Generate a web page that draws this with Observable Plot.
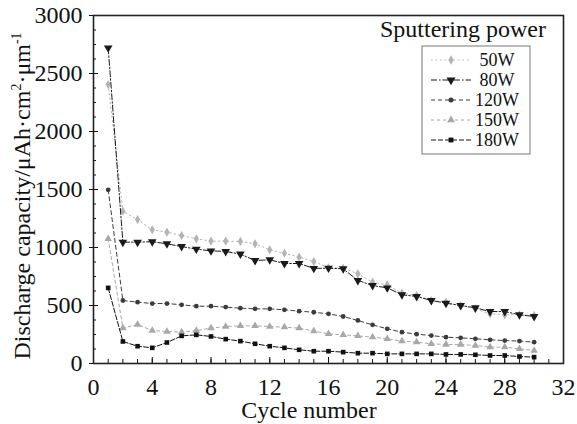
<!DOCTYPE html>
<html>
<head>
<meta charset="utf-8">
<script src="https://cdn.jsdelivr.net/npm/d3@7"></script>
<script src="https://cdn.jsdelivr.net/npm/@observablehq/plot@0.6"></script>
<style>
  body { margin: 0; background: #fff; }
  #chart { width: 577px; height: 424px; }
  svg { font-family: "Liberation Serif", "Times New Roman", serif; }
</style>
</head>
<body>
<div id="chart"></div>
<script>
const cycles = d3.range(1, 31);
const seriesNames = ["50W", "80W", "120W", "150W", "180W"];
const cap50W  = [2405, 1313, 1241, 1152, 1132, 1103, 1075, 1055, 1055, 1052, 1032, 980, 951, 917, 879, 825, 822, 773, 701, 678, 606, 586, 543, 529, 500, 471, 428, 420, 420, 414];
const cap80W  = [2721, 1046, 1046, 1050, 1032, 1008, 986, 971, 966, 943, 888, 894, 862, 862, 820, 822, 816, 716, 672, 652, 592, 578, 543, 520, 500, 480, 448, 448, 420, 405];
const cap120W = [1497, 543, 529, 517, 517, 506, 494, 494, 486, 477, 471, 471, 463, 451, 442, 428, 405, 371, 333, 299, 270, 253, 241, 227, 221, 213, 204, 198, 193, 184];
const cap150W = [1075, 305, 336, 284, 276, 270, 284, 305, 319, 325, 325, 319, 313, 305, 279, 256, 247, 238, 227, 213, 193, 184, 170, 164, 164, 155, 141, 141, 126, 112];
const cap180W = [652, 190, 149, 135, 181, 238, 247, 233, 210, 193, 170, 149, 135, 118, 106, 106, 98, 89, 89, 83, 83, 83, 83, 78, 78, 75, 69, 69, 60, 55];
const xTickLabels = d3.range(0, 33, 4);
const yTickLabels = d3.range(0, 3001, 500);

const values = [cap50W, cap80W, cap120W, cap150W, cap180W];
const styles = {
  "50W":  {color: "#b4b4b4", symbol: "diamond", rotate: 0, dash: "1.5,3", r: 2.8},
  "80W":  {color: "#1a1a1a", symbol: "triangle", rotate: 180, dash: "6,2,1.5,2", r: 3.2},
  "120W": {color: "#3c3c3c", symbol: "circle", rotate: 0, dash: "4,3", r: 2.4},
  "150W": {color: "#a8a8a8", symbol: "triangle", rotate: 0, dash: "3,3", r: 2.8},
  "180W": {color: "#111111", symbol: "square", rotate: 0, dash: "5,2", r: 2.6}
};
const rows = seriesNames.flatMap((s, i) => cycles.map((c, j) => ({series: s, cycle: c, value: values[i][j]})));

const marks = [];
for (const s of seriesNames) {
  const st = styles[s];
  const d = rows.filter(r => r.series === s);
  marks.push(Plot.line(d, {x: "cycle", y: "value", stroke: st.color, strokeWidth: 1, strokeDasharray: st.dash}));
  marks.push(Plot.dot(d, {x: "cycle", y: "value", symbol: () => st.symbol, r: st.r, fill: st.color, stroke: "none", rotate: st.rotate}));
}

const plot = Plot.plot({
  width: 577,
  height: 424,
  marginLeft: 93,
  marginRight: 14,
  marginTop: 15,
  marginBottom: 61,
  style: {fontFamily: "'Liberation Serif', serif", fontSize: "24px", color: "#111", background: "#fff"},
  x: {domain: [0, 32]},
  y: {domain: [0, 3000]},
  symbol: {type: "identity"},
  marks: [
    Plot.axisX({ticks: xTickLabels, tickSize: 0, tickPadding: 14, tickFormat: d => String(d), label: null}),
    Plot.axisX({ticks: d3.range(0, 33, 1), tickSize: -4, tickFormat: () => "", label: null}),
    Plot.axisX({ticks: xTickLabels, tickSize: -6, tickFormat: () => "", label: null}),
    Plot.axisY({ticks: yTickLabels, tickSize: 4, tickPadding: 7, tickFormat: d => String(d), label: null}),
    Plot.axisY({ticks: d3.range(0, 3001, 125), tickSize: -3, tickFormat: () => "", label: null}),
    Plot.axisY({ticks: yTickLabels, tickSize: -5, tickFormat: () => "", label: null}),
    Plot.frame({stroke: "#222", strokeWidth: 1.6}),
    ...marks
  ]
});

document.getElementById("chart").appendChild(plot);
const svg = d3.select(plot);

// Axis titles
svg.append("text")
  .attr("x", 309).attr("y", 418)
  .attr("text-anchor", "middle")
  .attr("font-size", 24).attr("fill", "#111")
  .text("Cycle number");

const yl = svg.append("text")
  .attr("transform", "translate(30,196) rotate(-90)")
  .attr("text-anchor", "middle")
  .attr("font-size", 24).attr("fill", "#111");
yl.append("tspan").text("Discharge capacity/μAh·cm");
yl.append("tspan").attr("font-size", 14).attr("dy", -9).text("2");
yl.append("tspan").attr("dy", 9).text("·μm");
yl.append("tspan").attr("font-size", 14).attr("dy", -9).text("-1");

// Legend
svg.append("text")
  .attr("x", 546).attr("y", 37)
  .attr("text-anchor", "end")
  .attr("font-size", 24).attr("fill", "#111")
  .text("Sputtering power");
svg.append("rect")
  .attr("x", 422).attr("y", 46).attr("width", 108).attr("height", 108)
  .attr("fill", "none").attr("stroke", "#777").attr("stroke-width", 1);
const symGen = {diamond: d3.symbolDiamond, triangle: d3.symbolTriangle, circle: d3.symbolCircle, square: d3.symbolSquare};
seriesNames.forEach((s, i) => {
  const st = styles[s];
  const cy = 60 + i * 20;
  svg.append("line").attr("x1", 431).attr("x2", 471).attr("y1", cy).attr("y2", cy)
    .attr("stroke", st.color).attr("stroke-width", 1).attr("stroke-dasharray", st.dash);
  svg.append("path")
    .attr("d", d3.symbol(symGen[st.symbol], Math.PI * st.r * st.r * 1.1)())
    .attr("transform", `translate(451,${cy}) rotate(${st.rotate})`)
    .attr("fill", st.color);
  svg.append("text").attr("x", 497).attr("y", cy + 6)
    .attr("text-anchor", "middle")
    .attr("font-size", 18).attr("fill", "#111").text(s);
});
</script>
</body>
</html>
